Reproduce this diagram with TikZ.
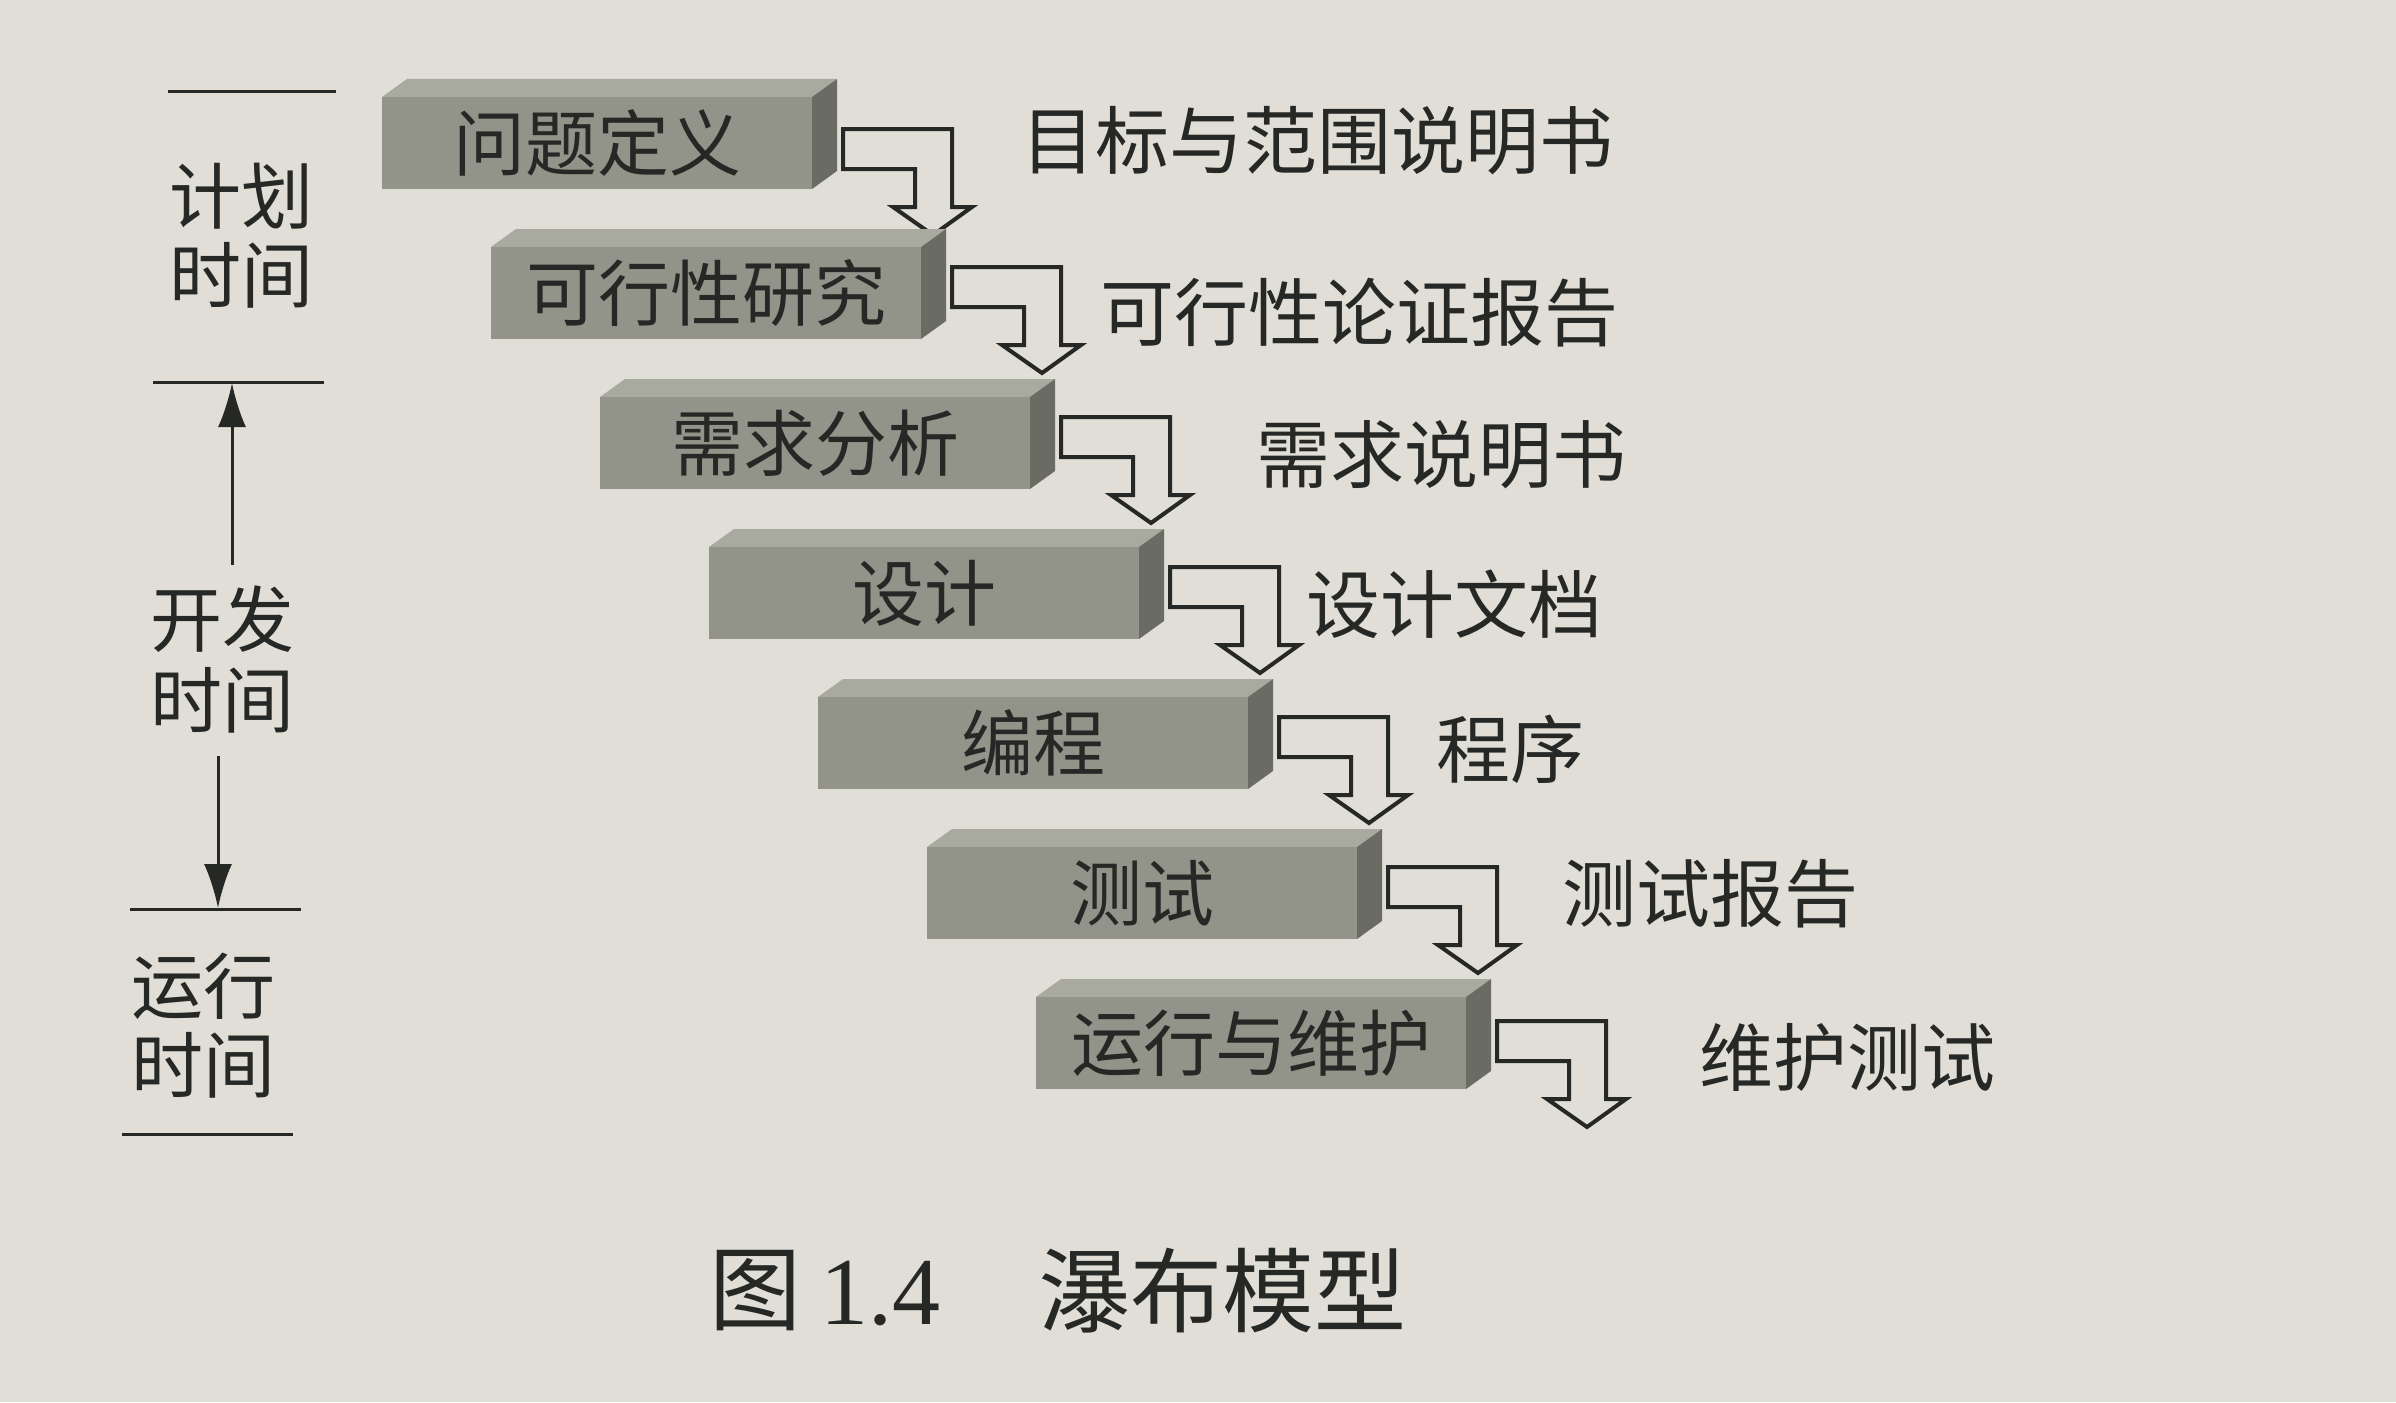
\documentclass[tikz,border=0pt]{standalone}
\usepackage{fontspec}
\setmainfont{Noto Sans CJK SC}
\newfontfamily\serifnum{Liberation Serif}
\usetikzlibrary{arrows.meta}
\definecolor{paper}{RGB}{224,222,214}
\definecolor{frontc}{RGB}{146,148,138}
\definecolor{topc}{RGB}{168,169,159}
\definecolor{sidec}{RGB}{106,108,100}
\definecolor{ink}{RGB}{38,40,38}
\begin{document}
\begin{tikzpicture}[x=0.5pt,y=-0.5pt,
  boxtext/.style={font=\fontsize{36}{40}\selectfont, text=ink, inner sep=0},
  outlabel/.style={font=\fontsize{37}{40}\selectfont, text=ink, anchor=west, inner sep=0},
  sidelabel/.style={font=\fontsize{36}{40}\selectfont, text=ink, inner sep=0},
  captext/.style={font=\fontsize{46}{50}\selectfont, text=ink, inner sep=0},
  rule/.style={draw=ink, line width=1.5pt},
  flow/.style={draw=ink, line width=2pt, fill=paper, line join=miter},
  timearrow/.style={draw=ink, line width=1.5pt, -{Latex[length=22pt,width=14pt]}}
]
\fill[paper] (0,0) rectangle (2396,1402);
\useasboundingbox (0,0) rectangle (2396,1402);
% stages
\foreach \i/\t/\off in {0/问题定义/12,1/可行性研究/0,2/需求分析/0,3/设计/0,4/编程/0,5/测试/0,6/运行与维护/4}{
  \pgfmathsetmacro\xa{382+109*\i}
  \pgfmathsetmacro\ya{79+150*\i}
  \pgfmathsetmacro\yb{\ya+\off}
  \fill[topc] (\xa,\ya+18) -- (\xa+25,\ya) -- (\xa+455,\ya) -- (\xa+430,\ya+18) -- cycle;
  \fill[frontc] (\xa,\ya+18) rectangle (\xa+430,\ya+110);
  \fill[sidec] (\xa+430,\ya+18) -- (\xa+455,\ya) -- (\xa+455,\ya+92) -- (\xa+430,\ya+110) -- cycle;
  \node[boxtext] (b\i) at (\xa+215,\ya+64) {\t};
  \coordinate (r\i) at (\xa+455,\yb+38);
  \draw[flow] (\xa+461,\yb+38) -- (\xa+570,\yb+38) -- (\xa+570,\yb+116)
     -- (\xa+590,\yb+116) -- (\xa+551,\yb+144) -- (\xa+511,\yb+116)
     -- (\xa+533,\yb+116) -- (\xa+533,\yb+78) -- (\xa+461,\yb+78) -- cycle;
}
% outputs
\node[outlabel] (o0) at (1021,141) {目标与范围说明书};
\node[outlabel] (o1) at (1100,313) {可行性论证报告};
\node[outlabel] (o2) at (1256,455) {需求说明书};
\node[outlabel] (o3) at (1306,604) {设计文档};
\node[outlabel] (o4) at (1436,749) {程序};
\node[outlabel] (o5) at (1562,894) {测试报告};
\node[outlabel] (o6) at (1699,1057) {维护测试};
% time axis
\coordinate (t1a) at (168,92);  \coordinate (t1b) at (336,92);
\coordinate (t2a) at (153,382); \coordinate (t2b) at (324,382);
\coordinate (t3a) at (130,909); \coordinate (t3b) at (301,909);
\coordinate (t4a) at (122,1134); \coordinate (t4b) at (293,1134);
\draw[rule] (t1a) -- (t1b);
\draw[rule] (t2a) -- (t2b);
\draw[rule] (t3a) -- (t3b);
\draw[rule] (t4a) -- (t4b);
\node[sidelabel] (p1) at (241,196) {计划};
\node[sidelabel] (p2) at (241,275) {时间};
\node[sidelabel] (d1) at (222,619) {开发};
\node[sidelabel] (d2) at (222,700) {时间};
\node[sidelabel] (y1) at (203,986) {运行};
\node[sidelabel] (y2) at (203,1065) {时间};
\coordinate (upA) at (232,565); \coordinate (upB) at (232,383);
\coordinate (dnA) at (218,756); \coordinate (dnB) at (218,908);
\draw[timearrow] (upA) -- (upB);
\draw[timearrow] (dnA) -- (dnB);
% caption
\node[captext] (cap1) at (755,1291) {图};
\node[captext, font=\fontsize{48}{50}\selectfont\serifnum] (cap2) at (880,1293) {1.4};
\node[captext] (cap3) at (1222,1291) {瀑布模型};
\end{tikzpicture}
\end{document}
